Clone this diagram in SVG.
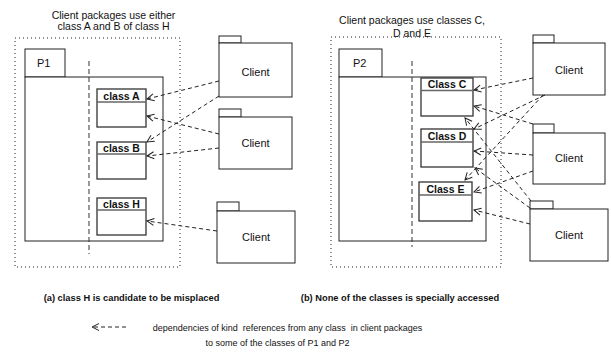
<svg xmlns="http://www.w3.org/2000/svg" width="611" height="356" viewBox="0 0 611 356">
<style>
text{font-family:"Liberation Sans",Arial,sans-serif;fill:#111}
.frame{fill:none;stroke:#222;stroke-width:1;stroke-dasharray:1 3}
.box{fill:#fff;stroke:#222;stroke-width:1}
.cls{fill:#fff;stroke:#333;stroke-width:1.3}
.sep{stroke:#666;stroke-width:1.3}
.vdash{stroke:#333;stroke-width:1;stroke-dasharray:5 3}
.dep{stroke:#222;stroke-width:1;stroke-dasharray:4 3;fill:none}
.title{font-size:10.5px;text-anchor:middle}
.cname{font-size:10.5px;font-weight:bold;text-anchor:middle}
.pname{font-size:11px}
.client{font-size:11px;text-anchor:middle}
.cap{font-size:9.3px;font-weight:bold;text-anchor:middle}
.legend{font-size:9px;text-anchor:middle;white-space:pre}
</style>
<defs>
<marker id="arr" viewBox="-8 -5 9 10" refX="0" refY="0" markerWidth="9" markerHeight="10" markerUnits="userSpaceOnUse" orient="auto">
<path d="M-7,-3.5 L0,0 L-7,3.5" fill="none" stroke="#222" stroke-width="1"/>
</marker>
</defs>

<!-- Left panel -->
<g id="titleA">
<text class="title" x="113.5" y="19">Client packages use either</text>
<text class="title" x="113.5" y="30">class A and B of class H</text>
</g>
<rect id="frameA" class="frame" x="15" y="38" width="165" height="229"/>
<g id="P1">
<rect class="box" x="25" y="49" width="40" height="28"/>
<rect class="box" x="25" y="77" width="138" height="164"/>
<text class="pname" x="37" y="67">P1</text>
<line class="vdash" x1="89" y1="61" x2="89" y2="254"/>
</g>
<g id="classA">
<rect class="cls" x="97" y="89" width="49" height="38"/>
<line class="sep" x1="97" y1="102" x2="146" y2="102"/>
<text class="cname" x="121.5" y="99.5">class A</text>
</g>
<g id="classB">
<rect class="cls" x="97" y="142" width="49" height="37"/>
<line class="sep" x1="97" y1="154" x2="146" y2="154"/>
<text class="cname" x="121.5" y="152">class B</text>
</g>
<g id="classH">
<rect class="cls" x="97" y="198" width="49" height="37"/>
<line class="sep" x1="97" y1="210" x2="146" y2="210"/>
<text class="cname" x="121.5" y="208">class H</text>
</g>
<g id="clientA1">
<rect class="box" x="219" y="36" width="22" height="7"/>
<rect class="box" x="219" y="43" width="73" height="54"/>
<text class="client" x="255.5" y="76">Client</text>
</g>
<g id="clientA2">
<rect class="box" x="219" y="109" width="22" height="8"/>
<rect class="box" x="219" y="117" width="73" height="52"/>
<text class="client" x="255.5" y="147">Client</text>
</g>
<g id="clientA3">
<rect class="box" x="217" y="202" width="22" height="9"/>
<rect class="box" x="217" y="211" width="78" height="52"/>
<text class="client" x="256" y="241">Client</text>
</g>

<!-- Right panel -->
<g id="titleB">
<text class="title" x="412" y="23.5">Client packages use classes C,</text>
<text class="title" x="412" y="36.5">D and E</text>
</g>
<rect id="frameB" class="frame" x="331" y="37" width="170" height="230"/>
<g id="P2">
<rect class="box" x="339" y="49" width="43" height="28"/>
<rect class="box" x="339" y="77" width="147" height="164"/>
<text class="pname" x="353" y="67">P2</text>
<line class="vdash" x1="412" y1="61" x2="412" y2="247"/>
</g>
<g id="classC">
<rect class="cls" x="421" y="78" width="52" height="38"/>
<line class="sep" x1="421" y1="90.5" x2="473" y2="90.5"/>
<text class="cname" x="447" y="88">Class C</text>
</g>
<g id="classD">
<rect class="cls" x="421" y="129" width="52" height="38"/>
<line class="sep" x1="421" y1="142" x2="473" y2="142"/>
<text class="cname" x="447" y="139.5">Class D</text>
</g>
<g id="classE">
<rect class="cls" x="419" y="182" width="53" height="39"/>
<line class="sep" x1="419" y1="195" x2="472" y2="195"/>
<text class="cname" x="445.5" y="192.5">Class E</text>
</g>
<g id="clientB1">
<rect class="box" x="533" y="35" width="21" height="8"/>
<rect class="box" x="533" y="43" width="72" height="52"/>
<text class="client" x="569" y="74">Client</text>
</g>
<g id="clientB2">
<rect class="box" x="533" y="124" width="21" height="9"/>
<rect class="box" x="533" y="133" width="72" height="51"/>
<text class="client" x="569" y="162">Client</text>
</g>
<g id="clientB3">
<rect class="box" x="530" y="201" width="23" height="8"/>
<rect class="box" x="530" y="209" width="78" height="52"/>
<text class="client" x="569" y="239">Client</text>
</g>

<!-- Connectors -->
<g id="connectors">
<line class="dep" x1="219" y1="81" x2="147" y2="99" marker-end="url(#arr)"/>
<line class="dep" x1="219" y1="96" x2="147" y2="142" marker-end="url(#arr)"/>
<line class="dep" x1="219" y1="134" x2="147" y2="116" marker-end="url(#arr)"/>
<line class="dep" x1="219" y1="148" x2="147" y2="156" marker-end="url(#arr)"/>
<line class="dep" x1="217" y1="231" x2="147" y2="221" marker-end="url(#arr)"/>

<line class="dep" x1="533" y1="78" x2="474" y2="90" marker-end="url(#arr)"/>
<line class="dep" x1="545" y1="95" x2="474" y2="129" marker-end="url(#arr)"/>
<line class="dep" x1="543" y1="95" x2="465" y2="180" marker-end="url(#arr)"/>
<line class="dep" x1="533" y1="124" x2="474" y2="106" marker-end="url(#arr)"/>
<line class="dep" x1="533" y1="155" x2="474" y2="151" marker-end="url(#arr)"/>
<line class="dep" x1="533" y1="171" x2="474" y2="192" marker-end="url(#arr)"/>
<line class="dep" x1="531" y1="201" x2="465" y2="118" marker-end="url(#arr)"/>
<line class="dep" x1="530" y1="208" x2="475" y2="168" marker-end="url(#arr)"/>
<line class="dep" x1="530" y1="224" x2="474" y2="210" marker-end="url(#arr)"/>

<line class="dep" x1="126" y1="327" x2="92" y2="327" marker-end="url(#arr)"/>
</g>

<!-- Captions -->
<text class="cap" x="131.5" y="301">(a) class H is candidate to be misplaced</text>
<text class="cap" x="400" y="301">(b) None of the classes is specially accessed</text>
<text class="legend" x="287.5" y="331" xml:space="preserve">dependencies of kind  references from any class  in client packages</text>
<text class="legend" x="277.5" y="346">to some of the classes of P1 and P2</text>
</svg>
